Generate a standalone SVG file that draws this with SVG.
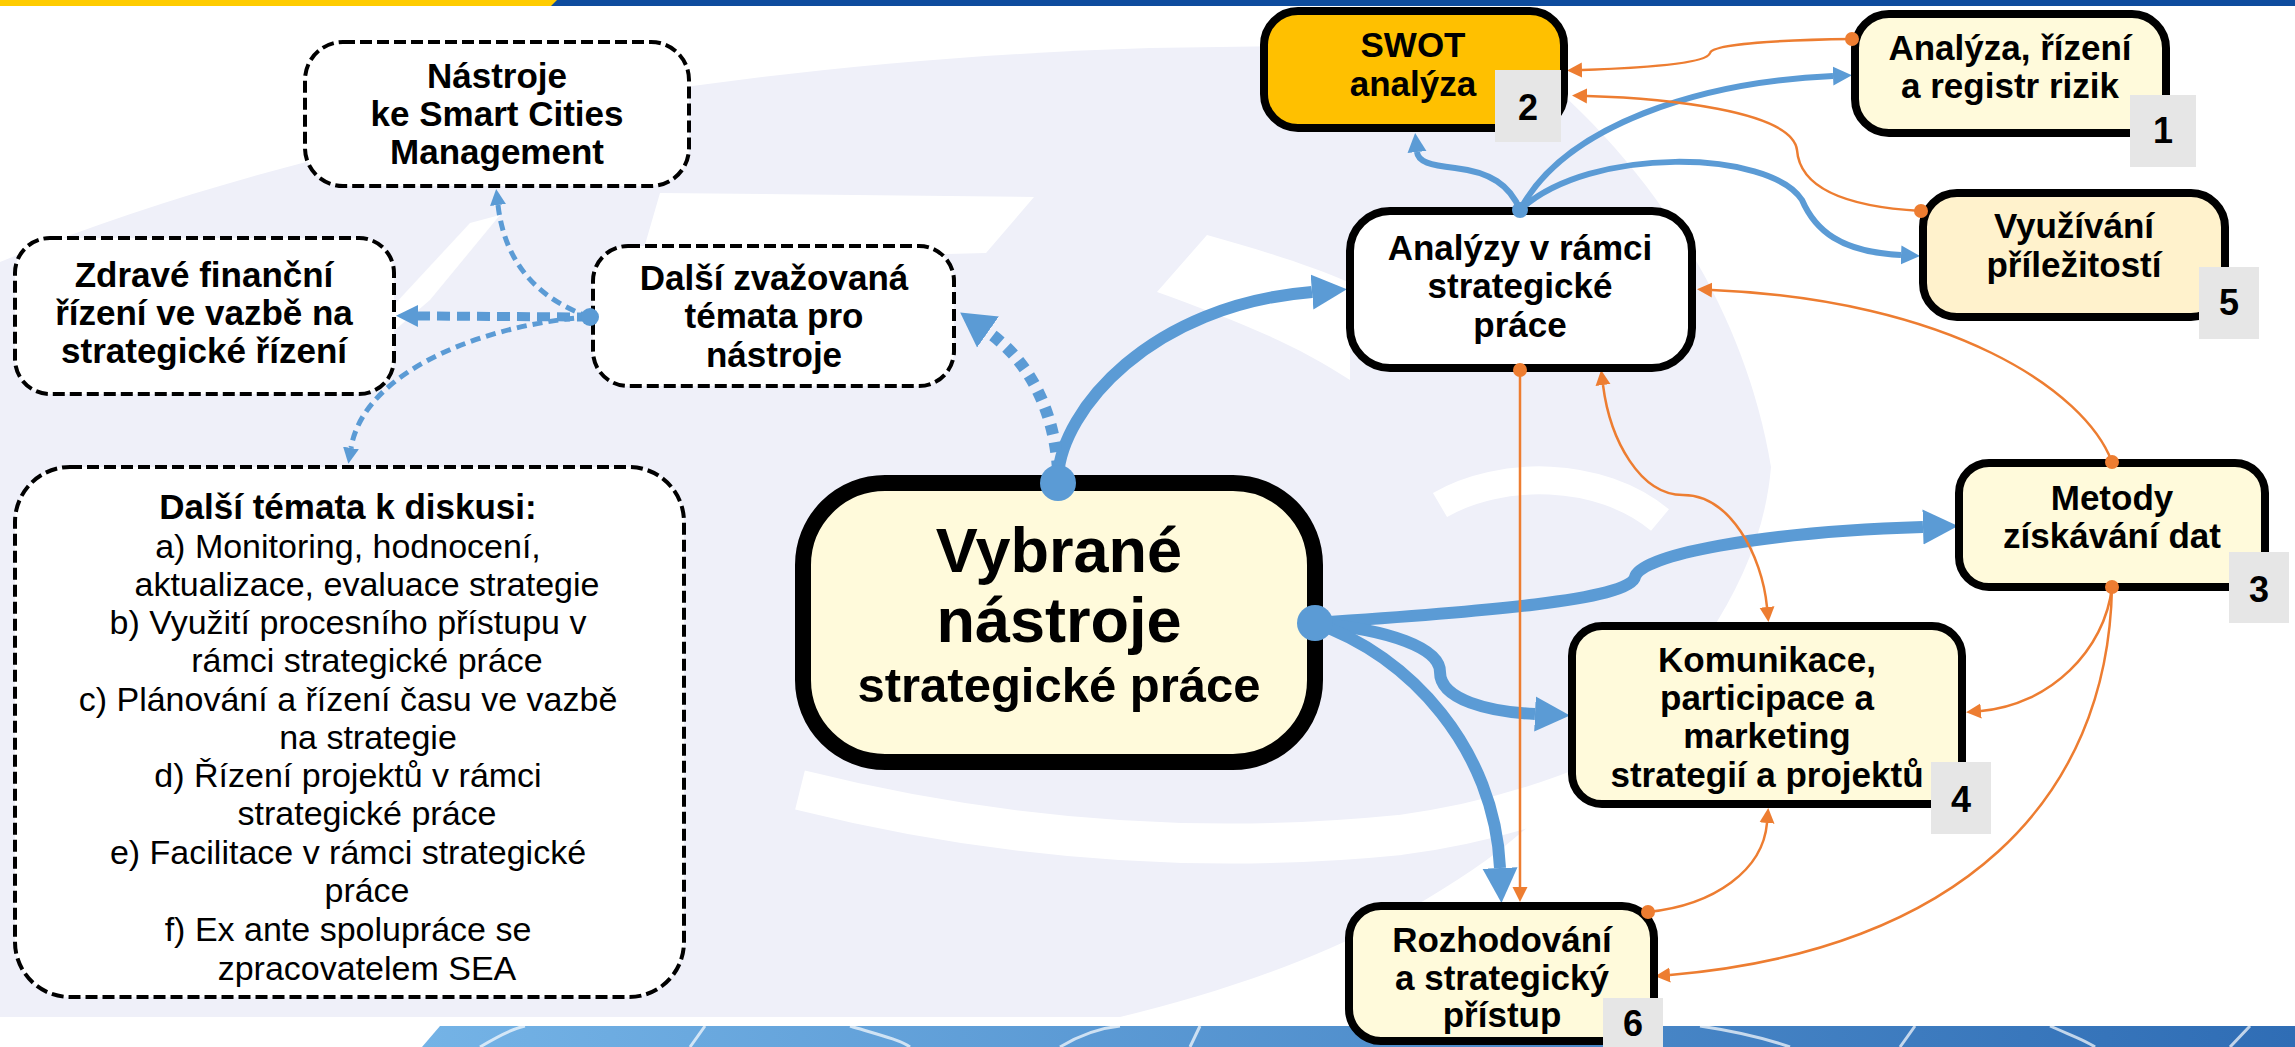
<svg xmlns="http://www.w3.org/2000/svg" width="2295" height="1047" viewBox="0 0 2295 1047">
<defs>
<style>
.t{font-family:"Liberation Sans",Arial,sans-serif;fill:#000;text-anchor:middle}
.b{font-weight:700;font-size:35px}
.r{font-weight:400;font-size:34px}
.nb{font-weight:700;font-size:36px}
.node{stroke:#000;stroke-width:8}
.dash{fill:#fff;stroke:#000;stroke-width:4;stroke-dasharray:12 5}
.num{fill:#E6E6E6}
.bl{fill:none;stroke:#5B9BD5}
.or{fill:none;stroke:#ED7D31;stroke-width:2.5}
.bd{fill:#5B9BD5}
.od{fill:#ED7D31}
.bg{fill:#EFF0F9}
.sw{fill:#fff}
</style>
<linearGradient id="band" x1="0" y1="0" x2="1" y2="0">
<stop offset="0" stop-color="#74B3E6"/>
<stop offset="1" stop-color="#2F6DB5"/>
</linearGradient>
<marker id="aB" markerUnits="userSpaceOnUse" viewBox="0 -18 36 36" refX="0" refY="0" markerWidth="36" markerHeight="36" orient="auto"><path d="M0,-17.5 L35,0 L0,17.5 Z" fill="#5B9BD5"/></marker>
<marker id="aD" markerUnits="userSpaceOnUse" viewBox="0 -20 36 40" refX="0" refY="0" markerWidth="36" markerHeight="40" orient="auto"><path d="M0,-19 L34,0 L0,19 Z" fill="#5B9BD5"/></marker>
<marker id="aM" markerUnits="userSpaceOnUse" viewBox="0 -10 20 20" refX="0" refY="0" markerWidth="20" markerHeight="20" orient="auto"><path d="M0,-9.5 L19,0 L0,9.5 Z" fill="#5B9BD5"/></marker>
<marker id="aS" markerUnits="userSpaceOnUse" viewBox="0 -9 17 18" refX="0" refY="0" markerWidth="17" markerHeight="18" orient="auto"><path d="M0,-8 L16,0 L0,8 Z" fill="#5B9BD5"/></marker>
<marker id="aH" markerUnits="userSpaceOnUse" viewBox="0 -12 24 24" refX="0" refY="0" markerWidth="24" markerHeight="24" orient="auto"><path d="M0,-11 L22,0 L0,11 Z" fill="#5B9BD5"/></marker>
<marker id="aO" markerUnits="userSpaceOnUse" viewBox="0 -8 16 16" refX="0" refY="0" markerWidth="16" markerHeight="16" orient="auto-start-reverse"><path d="M0,-7.5 L15,0 L0,7.5 Z" fill="#ED7D31"/></marker>
</defs>

<g id="background">
<rect x="0" y="0" width="2295" height="1047" fill="#fff"/>
<path class="bg" d="M0,262 C300,140 700,62 1150,48 L1500,43 C1620,130 1740,280 1771,467 C1760,600 1660,720 1500,850 C1380,940 1250,985 1120,1017 L0,1017 Z"/>
<path class="sw" d="M660,193 L1034,197 L986,253 L640,262 Z"/>
<path class="sw" d="M470,223 L500,215 L430,300 L395,330 L380,320 Z"/>
<path class="sw" d="M1157,292 L1207,235 C1260,250 1310,265 1350,283 L1350,380 C1290,340 1220,315 1157,292 Z"/>
<path fill="none" stroke="#fff" stroke-width="40" d="M800,790 C1000,840 1200,855 1400,835 C1500,822 1600,790 1700,730"/>
<path fill="none" stroke="#fff" stroke-width="28" d="M1440,505 C1500,470 1600,470 1660,520"/>
<rect x="0" y="0" width="2295" height="6" fill="#0E4C9E"/>
<polygon points="0,0 557,0 551,6 0,6" fill="#FFCC00"/>
<polygon points="440,1026 2295,1026 2295,1047 422,1047" fill="url(#band)"/>
<path fill="none" stroke="#fff" stroke-width="3" opacity="0.7" d="M480,1047 C500,1035 515,1028 525,1026 M690,1047 L705,1026 M850,1026 C880,1035 900,1040 910,1047 M1060,1047 C1080,1035 1100,1028 1120,1026 M1200,1026 L1190,1047 M1700,1026 C1740,1032 1770,1040 1790,1047 M1900,1047 L1915,1026 M2050,1026 C2070,1035 2085,1040 2095,1047 M2230,1047 L2250,1026"/>
</g>

<g id="connectors">
<path class="bl" stroke-width="12" marker-end="url(#aB)" d="M1058,476 C1062,410 1150,305 1312,292"/>
<path class="bl" stroke-width="12" stroke-dasharray="10 8" marker-end="url(#aD)" d="M1058,470 C1055,420 1035,365 988,332"/>
<path class="bl" stroke-width="12" marker-end="url(#aB)" d="M1315,623 C1480,612 1630,600 1635,577 C1640,555 1760,532 1923,527"/>
<path class="bl" stroke-width="12" marker-end="url(#aB)" d="M1315,623 C1390,630 1440,648 1440,672 C1440,700 1490,712 1535,714"/>
<path class="bl" stroke-width="12" marker-end="url(#aB)" d="M1315,623 C1410,655 1495,750 1500,868"/>
<path class="bl" stroke-width="6" marker-end="url(#aM)" d="M1520,210 C1510,185 1490,172 1455,168 C1430,165 1418,162 1417,152"/>
<path class="bl" stroke-width="6" marker-end="url(#aM)" d="M1520,210 C1565,125 1700,82 1833,76"/>
<path class="bl" stroke-width="6" marker-end="url(#aM)" d="M1520,210 C1590,145 1770,150 1802,200 C1815,230 1840,252 1901,255"/>
<path class="or" marker-end="url(#aO)" d="M1852,39 C1780,40 1712,44 1710,53 C1707,64 1640,68 1582,70"/>
<path class="or" marker-end="url(#aO)" d="M1921,211 C1850,207 1800,190 1797,150 C1792,110 1660,98 1587,96"/>
<path class="or" marker-start="url(#aO)" marker-end="url(#aO)" d="M1603,385 C1610,440 1640,495 1683,495 C1730,495 1762,555 1767,607"/>
<path class="or" marker-end="url(#aO)" d="M1520,372 L1520,887"/>
<path class="or" marker-end="url(#aO)" d="M2112,462 C2085,390 1950,300 1712,290"/>
<path class="or" marker-end="url(#aO)" d="M2112,587 C2105,650 2050,705 1981,711"/>
<path class="or" marker-end="url(#aO)" d="M2112,587 C2108,800 1960,950 1670,975"/>
<path class="or" marker-end="url(#aO)" d="M1648,912 C1715,905 1763,870 1767,823"/>
<path class="bl" stroke-width="5" stroke-dasharray="10 6" marker-end="url(#aS)" d="M590,317 C540,300 505,265 498,205"/>
<path class="bl" stroke-width="9" stroke-dasharray="13 7" marker-end="url(#aH)" d="M590,317 L418,316"/>
<path class="bl" stroke-width="5" stroke-dasharray="10 6" marker-end="url(#aS)" d="M590,317 C500,322 365,365 351,448"/>
</g>

<g id="n-smart">
<rect class="dash" x="305" y="42" width="384" height="144" rx="38"/>
<text class="t b"><tspan x="497" y="88">Nástroje</tspan><tspan x="497" y="126">ke Smart Cities</tspan><tspan x="497" y="164">Management</tspan></text>
</g>
<g id="n-finance">
<rect class="dash" x="15" y="238" width="379" height="156" rx="35"/>
<text class="t b"><tspan x="204" y="287">Zdravé finanční</tspan><tspan x="204" y="325">řízení ve vazbě na</tspan><tspan x="204" y="363">strategické řízení</tspan></text>
</g>
<g id="n-dalsi">
<rect class="dash" x="593" y="246" width="361" height="140" rx="35"/>
<text class="t b"><tspan x="774" y="290">Další zvažovaná</tspan><tspan x="774" y="328">témata pro</tspan><tspan x="774" y="367">nástroje</tspan></text>
</g>
<g id="n-diskuse">
<rect class="dash" x="15" y="467" width="669" height="530" rx="55"/>
<text class="t r"><tspan x="348" y="519" font-weight="700" font-size="35">Další témata k diskusi:</tspan><tspan x="348" y="558">a) Monitoring, hodnocení,</tspan><tspan x="367" y="596">aktualizace, evaluace strategie</tspan><tspan x="348" y="634">b) Využití procesního přístupu v</tspan><tspan x="367" y="672">rámci strategické práce</tspan><tspan x="348" y="711">c) Plánování a řízení času ve vazbě</tspan><tspan x="368" y="749">na strategie</tspan><tspan x="348" y="787">d) Řízení projektů v rámci</tspan><tspan x="367" y="825">strategické práce</tspan><tspan x="348" y="864">e) Facilitace v rámci strategické</tspan><tspan x="367" y="902">práce</tspan><tspan x="348" y="941">f) Ex ante spolupráce se</tspan><tspan x="367" y="980">zpracovatelem SEA</tspan></text>
</g>

<g id="n-central">
<rect x="803" y="483" width="512" height="279" rx="82" fill="#FFFADB" stroke="#000" stroke-width="16"/>
<text class="t" font-weight="700"><tspan x="1059" y="572" font-size="63">Vybrané</tspan><tspan x="1059" y="642" font-size="63">nástroje</tspan><tspan x="1059" y="702" font-size="49">strategické práce</tspan></text>
</g>
<g id="n-analyzy">
<rect class="node" x="1350" y="211" width="342" height="157" rx="40" fill="#fff"/>
<text class="t b"><tspan x="1520" y="260">Analýzy v rámci</tspan><tspan x="1520" y="298">strategické</tspan><tspan x="1520" y="337">práce</tspan></text>
</g>
<g id="n-swot">
<rect class="node" x="1264" y="11" width="300" height="117" rx="34" fill="#FFC000"/>
<text class="t b"><tspan x="1413" y="57">SWOT</tspan><tspan x="1413" y="96">analýza</tspan></text>
<rect class="num" x="1495" y="70" width="66" height="72"/>
<text class="t nb" x="1528" y="120">2</text>
</g>
<g id="n-rizika">
<rect class="node" x="1855" y="14" width="311" height="119" rx="34" fill="#FFFADB"/>
<text class="t b"><tspan x="2010" y="60">Analýza, řízení</tspan><tspan x="2010" y="98">a registr rizik</tspan></text>
<rect class="num" x="2130" y="95" width="66" height="72"/>
<text class="t nb" x="2163" y="143">1</text>
</g>
<g id="n-prilezitosti">
<rect class="node" x="1923" y="193" width="302" height="124" rx="34" fill="#FFF2CC"/>
<text class="t b"><tspan x="2074" y="238">Využívání</tspan><tspan x="2074" y="277">příležitostí</tspan></text>
<rect class="num" x="2199" y="267" width="60" height="72"/>
<text class="t nb" x="2229" y="315">5</text>
</g>
<g id="n-metody">
<rect class="node" x="1959" y="463" width="306" height="124" rx="30" fill="#FFFADB"/>
<text class="t b"><tspan x="2112" y="510">Metody</tspan><tspan x="2112" y="548">získávání dat</tspan></text>
<rect class="num" x="2229" y="552" width="60" height="71"/>
<text class="t nb" x="2259" y="602">3</text>
</g>
<g id="n-komunikace">
<rect class="node" x="1572" y="626" width="390" height="178" rx="30" fill="#FFFADB"/>
<text class="t b"><tspan x="1767" y="672">Komunikace,</tspan><tspan x="1767" y="710">participace a</tspan><tspan x="1767" y="748">marketing</tspan><tspan x="1767" y="787">strategií a projektů</tspan></text>
<rect class="num" x="1931" y="762" width="60" height="72"/>
<text class="t nb" x="1961" y="812">4</text>
</g>
<g id="n-rozhodovani">
<rect class="node" x="1349" y="906" width="305" height="135" rx="32" fill="#FFFADB"/>
<text class="t b"><tspan x="1502" y="952">Rozhodování</tspan><tspan x="1502" y="990">a strategický</tspan><tspan x="1502" y="1027">přístup</tspan></text>
<rect class="num" x="1603" y="998" width="60" height="49"/>
<text class="t nb" x="1633" y="1036">6</text>
</g>

<g id="dots">
<circle class="bd" cx="1058" cy="483" r="18"/>
<circle class="bd" cx="1315" cy="623" r="18"/>
<circle class="bd" cx="1520" cy="210" r="8"/>
<circle class="bd" cx="590" cy="317" r="9"/>
<circle class="od" cx="1520" cy="370" r="7"/>
<circle class="od" cx="1852" cy="39" r="7"/>
<circle class="od" cx="1921" cy="211" r="7"/>
<circle class="od" cx="2112" cy="462" r="7"/>
<circle class="od" cx="2112" cy="587" r="7"/>
<circle class="od" cx="1648" cy="912" r="7"/>
</g>
</svg>
